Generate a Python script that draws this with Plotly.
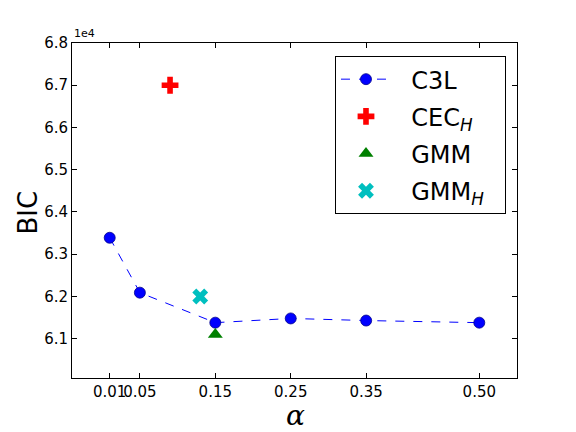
import plotly.graph_objects as go

# Data
alpha_c3l = [0.01, 0.05, 0.15, 0.25, 0.35, 0.50]
bic_c3l = [63390, 62090, 61380, 61480, 61430, 61380]
alpha_cec = [0.09]
bic_cec = [67000]
alpha_gmm = [0.15]
bic_gmm = [61100]
alpha_gmmh = [0.13]
bic_gmmh = [62000]

xtick_vals = [0.01, 0.05, 0.15, 0.25, 0.35, 0.50]
xtick_text = ["0.01", "0.05", "0.15", "0.25", "0.35", "0.50"]
ytick_vals = [61000, 62000, 63000, 64000, 65000, 66000, 67000, 68000]
ytick_text = ["6.1", "6.2", "6.3", "6.4", "6.5", "6.6", "6.7", "6.8"]

pad = "\u00a0\u00a0"
tail = "\u00a0\u00a0"

fig = go.Figure()
fig.add_trace(go.Scatter(
    x=alpha_c3l, y=bic_c3l, name=pad + "C3L", mode="lines+markers", legendgroup="a",
    line=dict(color="#0000FF", width=1, dash="dash"),
    marker=dict(symbol="circle", size=11, color="#0000FF",
                line=dict(color="#00008B", width=0.8)),
))
fig.add_trace(go.Scatter(
    x=alpha_cec, y=bic_cec, name=pad + "CEC<sub><i>H</i></sub>" + tail, mode="markers", legendgroup="b",
    marker=dict(symbol="cross", size=14, color="#FF0000", line=dict(width=0)),
))
fig.add_trace(go.Scatter(
    x=alpha_gmm, y=bic_gmm, name=pad + "GMM", mode="markers", legendgroup="c",
    marker=dict(symbol="triangle-up", size=13, color="#008000", line=dict(width=0)),
))
fig.add_trace(go.Scatter(
    x=alpha_gmmh, y=bic_gmmh, name=pad + "GMM<sub><i>H</i></sub>" + tail, mode="markers", legendgroup="d",
    marker=dict(symbol="x", size=14, color="#00BFBF", line=dict(width=0)),
))

axis_common = dict(
    showline=True, linecolor="black", linewidth=1, mirror="ticks",
    ticks="inside", ticklen=5, tickcolor="black", tickwidth=1,
    showgrid=False, zeroline=False, automargin=False, tickangle=0,
    tickfont=dict(family="DejaVu Sans", size=15, color="black"),
)

fig.update_xaxes(range=[-0.04, 0.55], tickvals=xtick_vals, ticktext=xtick_text, **axis_common)
fig.update_yaxes(range=[60070, 68000], tickvals=ytick_vals, ticktext=ytick_text, **axis_common)

fig.add_annotation(
    text="<i>α</i>", xref="paper", yref="paper", x=0.502, y=-54 / 335,
    xanchor="center", yanchor="bottom", showarrow=False, yshift=-2,
    font=dict(family="DejaVu Serif", size=28, color="black"),
)
fig.add_annotation(
    text="BIC", xref="paper", yref="paper", x=-0.101, y=0.494, textangle=-90,
    xanchor="center", yanchor="middle", showarrow=False,
    font=dict(family="DejaVu Sans", size=26, color="black"),
)
fig.add_annotation(
    text="1e4", xref="paper", yref="paper", x=0, y=1, xanchor="left", yanchor="bottom",
    showarrow=False, font=dict(family="DejaVu Sans", size=11, color="black"), yshift=1,
)

fig.update_layout(
    width=576, height=432,
    margin=dict(l=72, r=59, t=43, b=54),
    paper_bgcolor="white", plot_bgcolor="white",
    showlegend=True,
    legend=dict(
        x=0.591, y=0.961, xanchor="left", yanchor="top",
        bgcolor="white", bordercolor="black", borderwidth=1,
        font=dict(family="DejaVu Sans", size=24, color="black"),
        itemwidth=50, tracegroupgap=3,
    ),
)

fig.write_html("out.html")
